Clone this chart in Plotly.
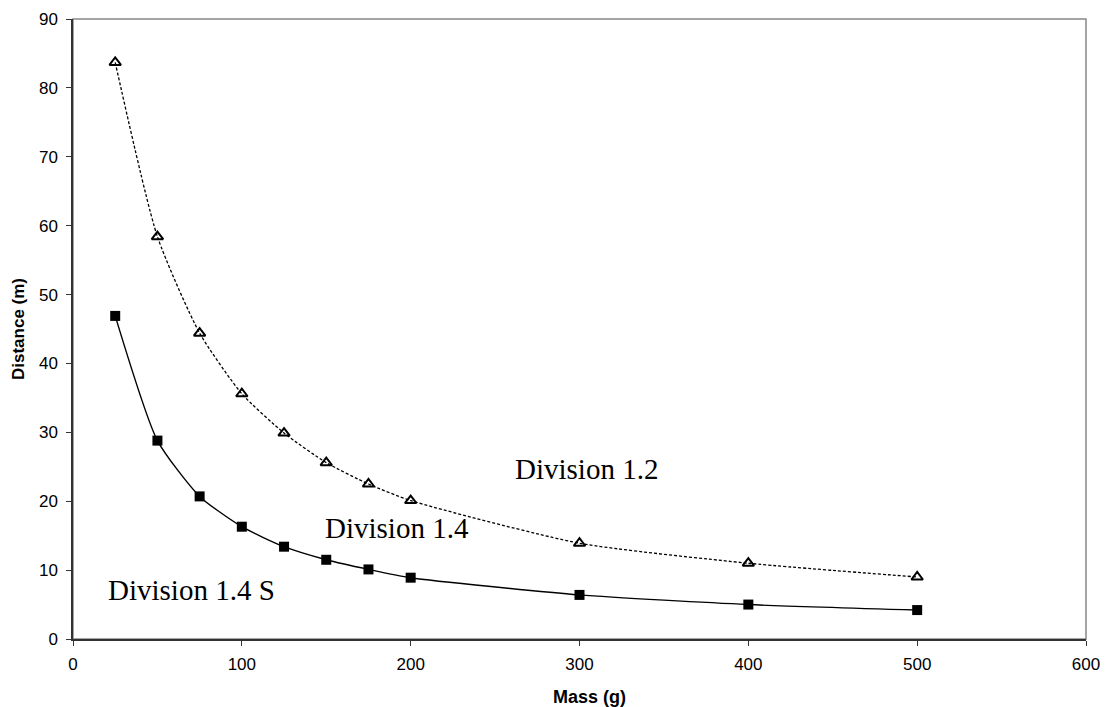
import plotly.graph_objects as go

mass = [25, 50, 75, 100, 125, 150, 175, 200, 300, 400, 500]
div_12 = [83.7, 58.4, 44.4, 35.6, 29.9, 25.6, 22.5, 20.1, 13.9, 11.0, 9.0]
div_14 = [46.9, 28.8, 20.7, 16.3, 13.4, 11.5, 10.1, 8.9, 6.4, 5.0, 4.2]

x_ticks = [0, 100, 200, 300, 400, 500, 600]
y_ticks = [0, 10, 20, 30, 40, 50, 60, 70, 80, 90]

labels = ["Division 1.2", "Division 1.4", "Division 1.4 S"]
label_x = [304, 192, 70]
label_y = [24.7, 16.1, 7.1]

fig = go.Figure()
fig.add_trace(go.Scatter(
    x=mass, y=div_12, mode="lines+markers",
    line=dict(color="black", width=1.3, dash="3px,2px", shape="spline", smoothing=0.6),
    marker=dict(symbol="triangle-up-open", size=10, color="black",
                line=dict(width=2, color="black")),
))
fig.add_trace(go.Scatter(
    x=mass, y=div_14, mode="lines+markers",
    line=dict(color="black", width=1.4, shape="spline", smoothing=0.6),
    marker=dict(symbol="square", size=10, color="black"),
))

for t, x, y in zip(labels, label_x, label_y):
    fig.add_annotation(x=x, y=y, text=t, showarrow=False,
                       font=dict(family="Liberation Serif", size=29, color="black"))

# x-axis title sits a little right of the plot centre in the original
fig.add_annotation(x=0.51, y=0, xref="paper", yref="paper", yshift=-58,
                   yanchor="middle", text="<b>Mass (g)</b>", showarrow=False,
                   font=dict(size=18))

# plot-area frame (top/right in grey)
fig.add_shape(type="rect", xref="paper", yref="paper", x0=0, y0=0, x1=1, y1=1,
              line=dict(color="#888888", width=1.5), layer="below")

# page body adds an 8px offset, so margins are shifted to compensate
fig.update_layout(
    width=1117, height=707,
    margin=dict(l=65, r=39, t=11, b=76),
    plot_bgcolor="white", paper_bgcolor="white",
    showlegend=False,
    font=dict(family="Liberation Sans", size=17, color="black"),
    xaxis=dict(
        range=[0, 600], tickvals=x_ticks, showgrid=False, zeroline=False,
        showline=True, linecolor="#333333", linewidth=1.5,
        ticks="outside", ticklen=5, tickcolor="#333333", automargin=False,
        ticklabelstandoff=4,
    ),
    yaxis=dict(
        range=[0, 90], tickvals=y_ticks, showgrid=False, zeroline=False,
        showline=True, linecolor="#333333", linewidth=1.5,
        ticks="outside", ticklen=5, tickcolor="#333333", automargin=False,
        ticklabelstandoff=5,
        title=dict(text="<b>Distance (m)</b>", font=dict(size=17), standoff=10),
    ),
)

fig.write_html("out.html")
